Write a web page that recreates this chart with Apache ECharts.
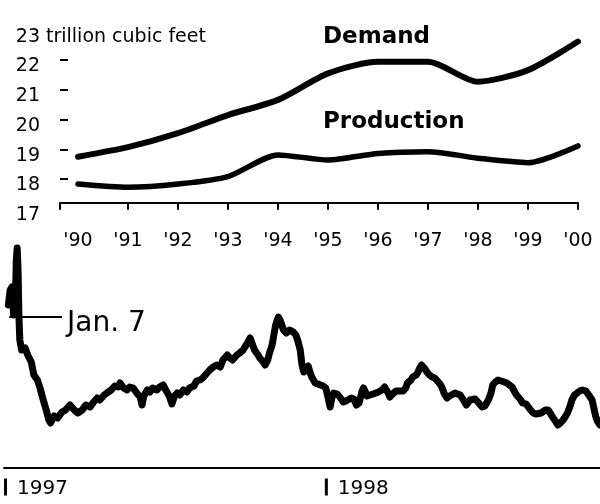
<!DOCTYPE html>
<html>
<head>
<meta charset="utf-8">
<script src="https://cdn.jsdelivr.net/npm/echarts@6/dist/echarts.min.js"></script>
<style>
html,body{margin:0;padding:0;background:#fff;}
#chart{width:600px;height:504px;}
</style>
</head>
<body>
<div id="chart"></div>
<script>
// ---------- Top chart data ----------
var years = [1990, 1991, 1992, 1993, 1994, 1995, 1996, 1997, 1998, 1999, 2000];
var yearLabels = ["'90", "'91", "'92", "'93", "'94", "'95", "'96", "'97", "'98", "'99", "'00"];
var demand = [18.75, 19.07, 19.54, 20.15, 20.66, 21.55, 21.94, 21.94, 21.27, 21.66, 22.62];
var production = [17.83, 17.72, 17.83, 18.08, 18.81, 18.64, 18.86, 18.92, 18.70, 18.55, 19.11];
var yTickLabels = [17, 18, 19, 20, 21, 22, 23];
var yTickMarks = [18, 19, 20, 21, 22];
var unitText = 'trillion cubic feet';

// ---------- Bottom chart data (days since Jan. 1, 1997; relative price) ----------
var priceDays = [5,7,9,10,11,13,14,15,16,17,18,20,24,27,31,34,38,41,44,48,51,53,57,61,66,70,75,80,84,89,93,98,102,106,109,114,117,122,126,130,132,136,140,143,147,151,155,157,159,163,166,169,174,177,181,184,188,191,194,197,200,204,208,211,216,219,223,226,231,234,238,242,246,249,254,257,260,265,268,272,274,277,280,282,285,289,291,295,297,300,302,305,307,309,312,314,316,318,321,323,325,329,332,334,337,339,341,343,346,348,350,354,357,359,363,366,368,371,373,375,379,382,386,389,391,395,398,401,404,407,409,413,416,420,423,426,430,433,437,439,442,446,450,454,457,459,463,465,469,471,473,475,479,481,484,487,490,492,496,498,501,504,507,509,513,515,519,521,524,526,530,532,536,538,541,544,547,549,551,554,556,559,562,564,569,572,575,578,581,583,587,590,594,596,599,602,605,607,611,613,616,619,622,624,628,630,633,636,639,641,644,646,649,652,655,658,662,664,666,669,671,673,675,678];
var priceValues = [3.26,3.56,3.62,3.36,3.06,3.36,4.16,4.40,3.96,3.02,2.56,2.36,2.40,2.26,2.12,1.86,1.76,1.60,1.40,1.16,0.96,0.90,1.04,1.00,1.12,1.16,1.26,1.16,1.10,1.16,1.26,1.22,1.32,1.40,1.36,1.46,1.50,1.56,1.64,1.62,1.70,1.60,1.56,1.62,1.60,1.50,1.42,1.26,1.44,1.56,1.52,1.60,1.56,1.62,1.66,1.56,1.44,1.28,1.44,1.50,1.46,1.56,1.52,1.60,1.64,1.74,1.76,1.80,1.90,1.96,2.02,2.06,2.02,2.16,2.26,2.20,2.16,2.26,2.30,2.36,2.42,2.50,2.60,2.50,2.36,2.26,2.20,2.12,2.06,2.16,2.30,2.46,2.66,2.86,3.02,2.96,2.92,2.76,2.70,2.72,2.76,2.72,2.66,2.56,2.36,2.06,1.92,2.00,2.04,1.92,1.82,1.70,1.68,1.66,1.64,1.60,1.46,1.22,1.40,1.50,1.48,1.42,1.32,1.34,1.36,1.40,1.38,1.26,1.30,1.52,1.60,1.44,1.46,1.48,1.50,1.52,1.56,1.62,1.50,1.42,1.48,1.54,1.54,1.54,1.60,1.70,1.76,1.82,1.86,1.92,2.00,2.06,1.98,1.92,1.86,1.82,1.80,1.76,1.68,1.62,1.48,1.40,1.44,1.46,1.50,1.50,1.46,1.42,1.32,1.26,1.36,1.40,1.38,1.36,1.28,1.22,1.24,1.26,1.36,1.50,1.66,1.72,1.76,1.74,1.72,1.70,1.66,1.62,1.52,1.46,1.38,1.30,1.28,1.26,1.16,1.10,1.08,1.06,1.10,1.12,1.16,1.16,1.08,1.02,0.92,0.86,0.90,0.96,1.04,1.10,1.24,1.36,1.46,1.50,1.54,1.56,1.54,1.50,1.44,1.36,1.20,1.04,0.94,0.86];
var yearTickDays = [0, 365];
var yearTickNames = ['1997', '1998'];
var annotationText = 'Jan. 7';
var annotationStartDay = 6, annotationEndDay = 66, annotationValue = 3.02;

var FONT = 'DejaVu Sans';

function pairs(xs, ys) { return xs.map(function (x, i) { return [x, ys[i]]; }); }

var chart = echarts.init(document.getElementById('chart'), null, { renderer: 'canvas' });
chart.setOption({
  animation: false,
  backgroundColor: '#ffffff',
  textStyle: { fontFamily: FONT, color: '#000' },
  grid: [
    { left: 60, right: 22, top: 30.25, height: 178.5, outerBoundsMode: 'none', containLabel: false },
    { left: 4, right: 0, top: 240, height: 228, outerBoundsMode: 'none', containLabel: false }
  ],
  xAxis: [
    {
      gridIndex: 0, type: 'value', min: 1989.64, max: 2000, offset: -6,
      axisLine: { show: true, lineStyle: { color: '#000', width: 2 } },
      axisTick: { show: true, length: 7, lineStyle: { color: '#000', width: 2 },
        customValues: [1989.64, 1991, 1992, 1993, 1994, 1995, 1996, 1997, 1998, 1999, 2000] },
      axisLabel: { show: true, customValues: years, margin: 29, fontSize: 19, fontFamily: FONT, color: '#000',
        formatter: function (v) { var i = years.indexOf(Math.round(v)); return i >= 0 ? yearLabels[i] : ''; } },
      splitLine: { show: false }
    },
    {
      gridIndex: 1, type: 'value', min: 0, max: 678,
      axisLine: { show: true, lineStyle: { color: '#000', width: 2 } },
      axisTick: { show: false },
      axisLabel: {
        show: true, customValues: yearTickDays, margin: 7, align: 'left', verticalAlign: 'top',
        formatter: function (v) { var i = yearTickDays.indexOf(Math.round(v)); return i >= 0 ? '{b|}{t|' + yearTickNames[i] + '}' : ''; },
        rich: {
          b: { width: 3, height: 17, backgroundColor: '#000' },
          t: { fontSize: 20, fontFamily: FONT, color: '#000', padding: [4, 0, 0, 10] }
        }
      },
      splitLine: { show: false }
    }
  ],
  yAxis: [
    {
      gridIndex: 0, type: 'value', min: 17, max: 23,
      axisLine: { show: false },
      axisTick: { show: true, inside: true, length: 8, customValues: yTickMarks, lineStyle: { color: '#000', width: 2 } },
      axisLabel: { show: true, customValues: yTickLabels, margin: 20, fontSize: 19, fontFamily: FONT, color: '#000',
        verticalAlign: 'top', lineHeight: 13, formatter: function (v) { return String(v); } },
      splitLine: { show: false }
    },
    {
      gridIndex: 1, type: 'value', min: 0, max: 4.56, show: false,
      splitLine: { show: false }
    }
  ],
  graphic: [
    { type: 'text', x: 46, y: 37, style: { text: unitText, font: '19px "' + FONT + '"', fill: '#000', align: 'left', verticalAlign: 'middle' } },
    { type: 'text', x: 323, y: 37, style: { text: 'Demand', font: 'bold 23px "' + FONT + '"', fill: '#000', align: 'left', verticalAlign: 'middle' } },
    { type: 'text', x: 323, y: 122, style: { text: 'Production', font: 'bold 23px "' + FONT + '"', fill: '#000', align: 'left', verticalAlign: 'middle' } }
  ],
  series: [
    {
      name: 'Demand', type: 'line', xAxisIndex: 0, yAxisIndex: 0, data: pairs(years, demand),
      symbol: 'none', smooth: 0.25, lineStyle: { color: '#000', width: 6, cap: 'round', join: 'round' }
    },
    {
      name: 'Production', type: 'line', xAxisIndex: 0, yAxisIndex: 0, data: pairs(years, production),
      symbol: 'none', smooth: 0.25, lineStyle: { color: '#000', width: 5.5, cap: 'round', join: 'round' }
    },
    {
      name: 'Price', type: 'line', xAxisIndex: 1, yAxisIndex: 1, data: pairs(priceDays, priceValues),
      symbol: 'none', lineStyle: { color: '#000', width: 7, join: 'round', cap: 'round' },
      markLine: {
        silent: true, symbol: 'none',
        lineStyle: { color: '#000', width: 2, type: 'solid' },
        label: { show: true, position: 'end', formatter: annotationText, fontSize: 28, fontFamily: FONT, color: '#000',
          distance: 5, verticalAlign: 'top', lineHeight: 14 },
        data: [[{ coord: [annotationStartDay, annotationValue] }, { coord: [annotationEndDay, annotationValue] }]]
      }
    }
  ]
});
</script>
</body>
</html>
